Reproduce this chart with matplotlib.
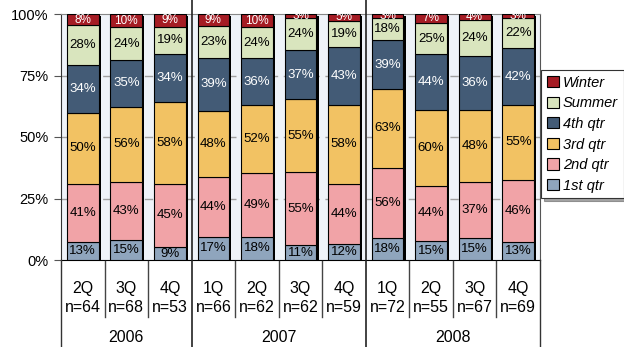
import matplotlib.pyplot as plt
from matplotlib.patches import Patch
from matplotlib.lines import Line2D
from matplotlib.transforms import blended_transform_factory

plt.rcParams['font.family'] = ['Liberation Sans', 'DejaVu Sans']

quarters = ['2Q', '3Q', '4Q', '1Q', '2Q', '3Q', '4Q', '1Q', '2Q', '3Q', '4Q']
counts = [64, 68, 53, 66, 62, 62, 59, 72, 55, 67, 69]
years = ['2006', '2007', '2008']
year_spans = [(0, 2), (3, 6), (7, 10)]

first_qtr = [13, 15, 9, 17, 18, 11, 12, 18, 15, 15, 13]
second_qtr = [41, 43, 45, 44, 49, 55, 44, 56, 44, 37, 46]
third_qtr = [50, 56, 58, 48, 52, 55, 58, 63, 60, 48, 55]
fourth_qtr = [34, 35, 34, 39, 36, 37, 43, 39, 44, 36, 42]
summer = [28, 24, 19, 23, 24, 24, 19, 18, 25, 24, 22]
winter = [8, 10, 9, 9, 10, 3, 5, 3, 7, 4, 3]

series = [
    ('1st qtr', first_qtr, '#8fa5bd', 'black', 9.5),
    ('2nd qtr', second_qtr, '#f1a3a7', 'black', 9.5),
    ('3rd qtr', third_qtr, '#f2c263', 'black', 9.5),
    ('4th qtr', fourth_qtr, '#435b76', 'white', 9.5),
    ('Summer', summer, '#d9e5be', 'black', 9.5),
    ('Winter', winter, '#a51c24', 'white', 8.5),
]

fig = plt.figure(figsize=(6.24, 3.47), dpi=100)
ax = fig.add_axes([61 / 624, 1 - 260 / 347, 479 / 624, 246 / 347])
ax.set_facecolor('#eff3f9')

x = list(range(len(quarters)))
totals = [sum(s[1][i] for s in series) for i in x]
width = 0.73

# shadow behind each bar
ax.bar([i + 0.05 for i in x], [0.99] * len(x), width, bottom=0, color='black', zorder=2)

bottoms = [0.0] * len(x)
for name, vals, color, tcolor, fs in series:
    heights = [v / t for v, t in zip(vals, totals)]
    ax.bar(x, heights, width, bottom=bottoms, color=color, edgecolor='black',
           linewidth=0.8, zorder=3)
    for i in x:
        ax.text(i, bottoms[i] + heights[i] / 2, '%d%%' % vals[i], ha='center',
                va='center', color=tcolor, fontsize=fs, zorder=4, clip_on=True)
    bottoms = [b + h for b, h in zip(bottoms, heights)]

ax.set_xlim(-0.5, len(x) - 0.5)
ax.set_ylim(0, 1)
ax.set_yticks([0, 0.25, 0.5, 0.75, 1.0])
ax.set_yticklabels(['0%', '25%', '50%', '75%', '100%'], fontsize=10.5)
ax.tick_params(axis='y', length=5, color='#555555', pad=4)
ax.set_xticks([])
for y in [0.25, 0.5, 0.75]:
    ax.axhline(y, color='#a0a0a0', linestyle=(0, (6, 4)), linewidth=1, zorder=1)
ax.spines['top'].set_color('#888888')
ax.spines['left'].set_color('#333333')
ax.spines['right'].set_color('#555555')
ax.spines['bottom'].set_color('black')

# category table under the axis
tr = blended_transform_factory(ax.transData, fig.transFigure)
for i in x:
    ax.text(i, 1 - 289 / 347, quarters[i], transform=tr, ha='center', va='center', fontsize=11.5)
    ax.text(i, 1 - 308 / 347, 'n=%d' % counts[i], transform=tr, ha='center', va='center', fontsize=11.5)
for name, (a, b) in zip(years, year_spans):
    ax.text((a + b) / 2, 1 - 338 / 347, name, transform=tr, ha='center', va='center', fontsize=11.5)

for xs in [0.5, 1.5, 3.5, 4.5, 5.5, 7.5, 8.5, 9.5]:
    fig.add_artist(Line2D([xs, xs], [1 - 261 / 347, 1 - 317 / 347], transform=tr,
                          color='#444444', linewidth=1))
for xs in [2.5, 6.5]:
    fig.add_artist(Line2D([xs, xs], [0, 1], transform=tr, color='#222222', linewidth=1.2))
for xs in [-0.5, 10.5]:
    fig.add_artist(Line2D([xs, xs], [0, 1 - 260 / 347], transform=tr, color='#333333', linewidth=1))

handles = [Patch(facecolor=s[2], edgecolor='black', linewidth=0.8, label=s[0]) for s in reversed(series)]
leg = fig.legend(handles=handles, loc='upper left', bbox_to_anchor=(541 / 624, 1 - 70 / 347),
                 prop={'style': 'italic', 'size': 10.5}, frameon=True, fancybox=False,
                 shadow=True, handlelength=0.8, handleheight=0.8, handletextpad=0.3,
                 labelspacing=0.45, borderpad=0.4, borderaxespad=0)
leg.get_frame().set_edgecolor('#333333')
leg.get_frame().set_linewidth(0.8)

plt.savefig('out.png', dpi=100)
